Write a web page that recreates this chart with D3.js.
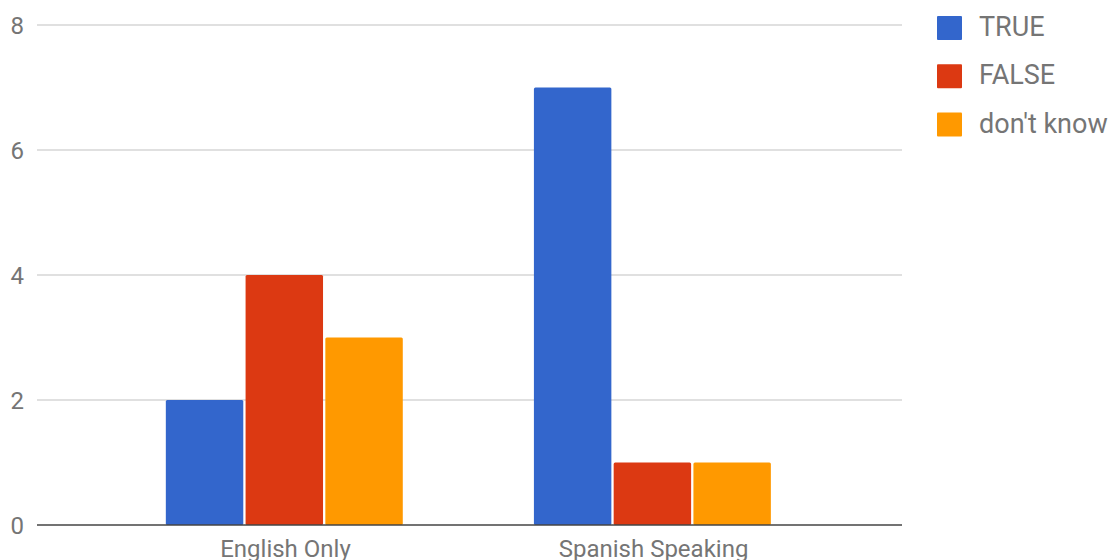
<!DOCTYPE html>
<html>
<head>
<meta charset="utf-8">
<script src="https://cdn.jsdelivr.net/npm/d3@7"></script>
<style>
  body { margin: 0; background: #fff; }
  text { font-family: Roboto, "Liberation Sans", sans-serif; fill: #757575; }
</style>
</head>
<body>
<div id="chart"></div>
<script>
const categories = ["English Only", "Spanish Speaking"];
const seriesNames = ["TRUE", "FALSE", "don't know"];
const trueValues = [2, 7];
const falseValues = [4, 1];
const dontKnowValues = [3, 1];
const yTicks = [0, 2, 4, 6, 8];

const colors = ["#3366cc", "#dc3912", "#ff9900"];
const allSeries = [trueValues, falseValues, dontKnowValues];

const width = 1115, height = 560;
const plotLeft = 37, plotRight = 902, plotTop = 25, plotBottom = 525;

const svg = d3.select("#chart")
              .append("svg")
              .attr("width", width)
              .attr("height", height);

const x0 = d3.scaleBand()
             .domain(categories)
             .range([plotLeft, plotRight])
             .paddingInner(0.35)
             .paddingOuter(0.35);

const x1 = d3.scaleBand()
             .domain(seriesNames)
             .range([0, x0.bandwidth()]);

const y = d3.scaleLinear()
            .domain([0, 8])
            .range([plotBottom, plotTop]);

// gridlines
svg.append("g")
   .selectAll("line")
   .data(yTicks.filter(d => d > 0))
   .enter()
   .append("line")
   .attr("x1", plotLeft)
   .attr("x2", plotRight)
   .attr("y1", d => y(d))
   .attr("y2", d => y(d))
   .attr("stroke", "#d6d6d6")
   .attr("stroke-width", 1.5);

// y labels
svg.append("g")
   .selectAll("text")
   .data(yTicks)
   .enter()
   .append("text")
   .attr("x", 24)
   .attr("y", d => y(d))
   .attr("dy", "0.36em")
   .attr("text-anchor", "end")
   .attr("font-size", 24)
   .text(d => d);

// bars
const groups = svg.append("g")
                  .selectAll("g")
                  .data(categories)
                  .enter()
                  .append("g")
                  .attr("transform", d => "translate(" + x0(d) + ",0)");

groups.selectAll("rect")
      .data((d, i) => seriesNames.map((s, j) => ({ key: s, value: allSeries[j][i], color: colors[j] })))
      .enter()
      .append("rect")
      .attr("x", d => x1(d.key))
      .attr("y", d => y(d.value))
      .attr("width", x1.bandwidth() - 2.3)
      .attr("height", d => y(0) - y(d.value))
      .attr("rx", 1.5)
      .attr("fill", d => d.color);

// baseline
svg.append("line")
   .attr("x1", plotLeft)
   .attr("x2", plotRight)
   .attr("y1", y(0))
   .attr("y2", y(0))
   .attr("stroke", "#444")
   .attr("stroke-width", 1.6);

// category labels (the reference crops them at the bottom edge)
svg.append("g")
   .selectAll("text")
   .data(categories)
   .enter()
   .append("text")
   .attr("x", d => x0(d) + x0.bandwidth() / 2)
   .attr("y", 557)
   .attr("text-anchor", "middle")
   .attr("font-size", 24)
   .text(d => d);

// legend
const legend = svg.append("g")
                  .attr("transform", "translate(937, 16)");

const legendItems = legend.selectAll("g")
                          .data(seriesNames)
                          .enter()
                          .append("g")
                          .attr("transform", (d, i) => "translate(0," + (i * 48.3) + ")");

legendItems.append("rect")
           .attr("width", 25)
           .attr("height", 24)
           .attr("rx", 1)
           .attr("fill", (d, i) => colors[i]);

legendItems.append("text")
           .attr("x", 42)
           .attr("y", 20)
           .attr("font-size", 27)
           .text(d => d);
</script>
</body>
</html>
